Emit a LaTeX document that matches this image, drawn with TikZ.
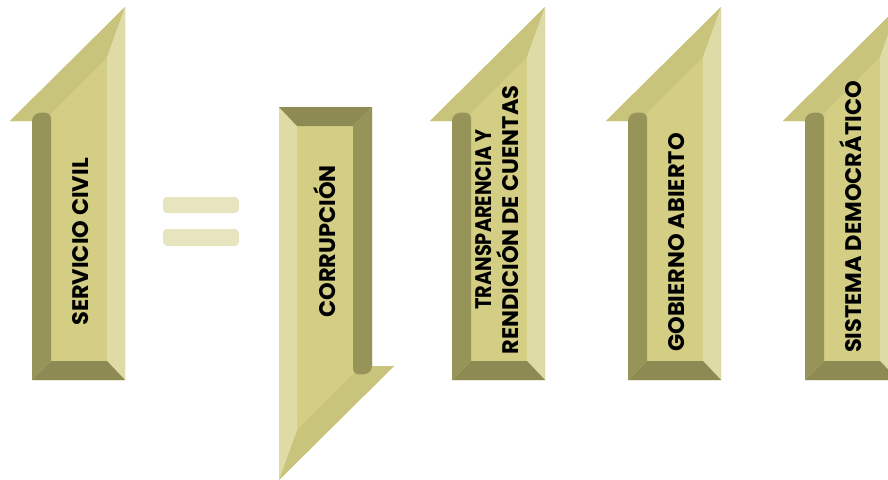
\documentclass[tikz,border=0pt]{standalone}
\usepackage{fontspec}
\newfontfamily\lblfont{Poppins}
\definecolor{face}{HTML}{D3CE84}
\definecolor{band}{HTML}{C9C47B}
\definecolor{leftbev}{HTML}{97945A}
\definecolor{botbev}{HTML}{8D8A54}
\definecolor{rightbev}{HTML}{DFDBA7}
\definecolor{eqfill}{HTML}{E7E5C0}
\tikzset{
  lbl/.style={rotate=90, inner sep=0pt, text=black,
    text height=15.7pt, text depth=0pt,
    font=\lblfont\bfseries\fontsize{22.5}{28}\selectfont},
  eqbar/.style={fill=eqfill, rounded corners=4pt},
  % bevelled block arrow pointing up, centred on its bounding box
  uparrow/.pic={
    \fill[face] (-46.5,186.5) -- (46.5,186.5) -- (46.5,-186.5)
      -- (-68.5,-72.5) -- (-46.5,-72.5) -- cycle;
    % diagonal bevel along the head
    \fill[band] (-68.5,-72.5) -- (46.5,-186.5) -- (28.5,-136.5)
      -- (-28.5,-79.5) -- (-46.5,-72.5) -- cycle;
    % right bevel
    \fill[rightbev] (46.5,186.5) -- (28.5,167.5) -- (28.5,-136.5)
      -- (46.5,-186.5) -- cycle;
    % bottom bevel
    \fill[botbev] (-46.5,186.5) -- (46.5,186.5) -- (28.5,167.5)
      -- (-27.5,167.5) -- cycle;
    % left bevel, rounded where it meets the barb
    \fill[leftbev] (-46.5,186.5) -- (-27.5,167.5) -- (-27.5,-75)
      .. controls (-27.5,-79.5) and (-31,-81) .. (-36,-81)
      .. controls (-42,-81) and (-46.5,-78) .. (-46.5,-72.5) -- cycle;
  }
}
\begin{document}
\begin{tikzpicture}[x=1pt,y=-1pt]
\useasboundingbox (0,0) rectangle (888,479);
\clip (0,0) rectangle (888,479);

% arrows
\pic at (78.5,193.5) {uparrow};
\pic[rotate=180] at (325.5,293.5) {uparrow};
\pic at (498.5,193.5) {uparrow};
\pic at (674.5,193.5) {uparrow};
\pic at (851.5,193.5) {uparrow};

% equals sign
\fill[eqbar] (163,197) rectangle (239,213);
\fill[eqbar] (163,229) rectangle (239,246);

% labels
\node[lbl] (servicio) at (80.3,242) {SERVICIO CIVIL};
\node[lbl] (corrupcion) at (328,241.5) {CORRUPCIÓN};
\node[lbl] (transparencia) at (483.3,219.5) {\scalebox{0.86}[1]{TRANSPARENCIA Y}};
\node[lbl] (rendicion) at (511,220) {RENDICIÓN DE CUENTAS};
\node[lbl] (gobierno) at (676.5,242.5) {GOBIERNO ABIERTO};
\node[lbl] (sistema) at (853.5,217) {SISTEMA DEMOCRÁTICO};
\end{tikzpicture}
\end{document}
